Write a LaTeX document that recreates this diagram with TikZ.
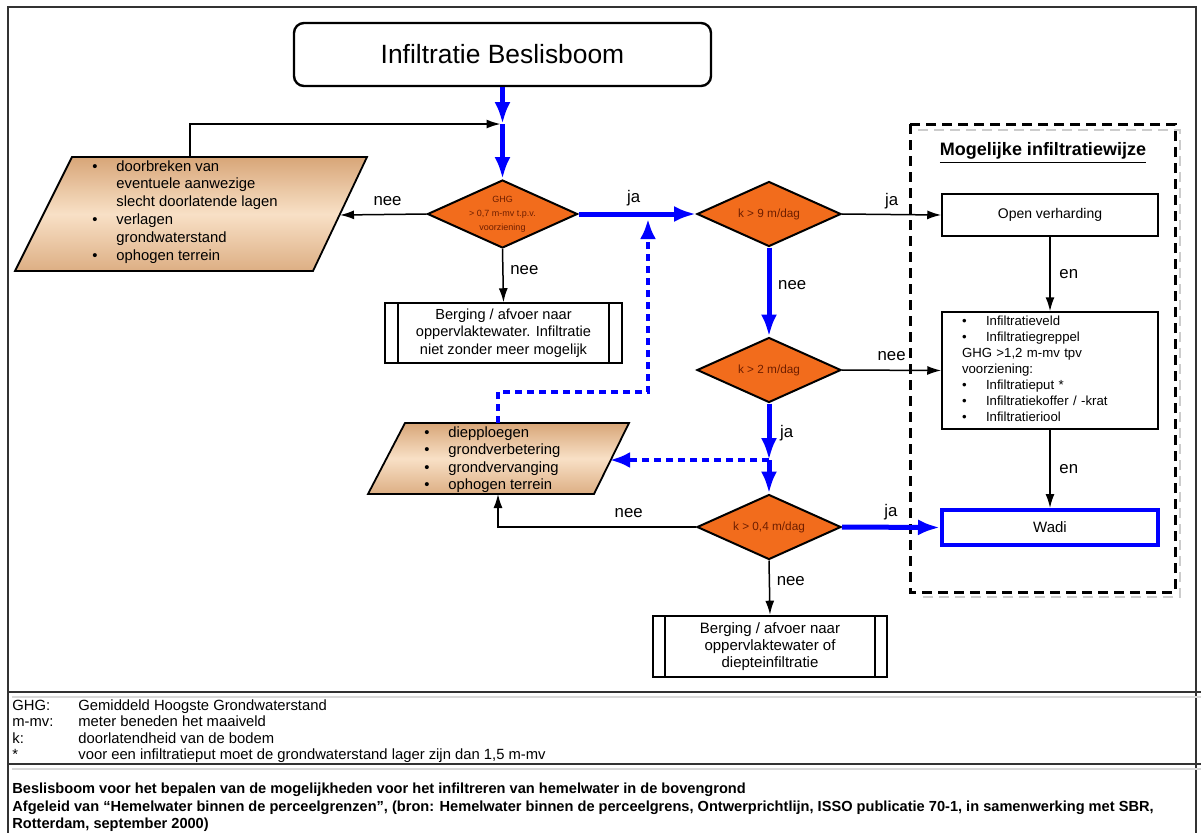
\documentclass[tikz,border=0pt]{standalone}
\usepackage{fontspec}
\setmainfont{Liberation Sans}
\usetikzlibrary{shapes.geometric,arrows.meta}

\definecolor{kblue}{RGB}{0,0,255}
\definecolor{korange}{RGB}{242,108,28}
\definecolor{ktext}{RGB}{110,30,0}
\definecolor{ktan}{RGB}{216,166,120}
\definecolor{klight}{RGB}{248,224,198}

\begin{document}
\begin{tikzpicture}[x=0.5pt,y=-0.5pt,
    arr/.style={-{Latex[length=7pt,width=4.5pt]}, line width=0.75pt},
    bluearr/.style={-{Latex[length=11pt,width=8pt]}, draw=kblue, line width=2.5pt},
    bluedash/.style={-{Latex[length=10pt,width=8pt]}, draw=kblue, line width=2pt, dash pattern=on 3.5pt off 2.5pt},
    cond/.style={diamond, draw, line width=1pt, fill=korange, text=ktext, shape aspect=2.2, inner sep=0pt,
        minimum width=72pt, minimum height=32.5pt, font=\fontsize{5.9}{7}\selectfont, align=center},
    plainbox/.style={draw, line width=0.75pt, fill=white, inner sep=0pt, font=\fontsize{7.3}{8.8}\selectfont, align=center},
    procbox/.style={plainbox, path picture={
        \draw[line width=0.75pt] ([xshift=#1]path picture bounding box.north west) -- ([xshift=#1]path picture bounding box.south west);
        \draw[line width=0.75pt] ([xshift=-#1]path picture bounding box.north east) -- ([xshift=-#1]path picture bounding box.south east);}},
    lbl/.style={font=\fontsize{8.4}{10}\selectfont, text=black, text depth=0pt},
    legend/.style={anchor=west, inner sep=0pt, text height=1.6ex, text depth=0.4ex, font=\fontsize{7.4}{9}\selectfont},
    note/.style={anchor=west, inner sep=0pt, text height=1.6ex, text depth=0.4ex, font=\bfseries\fontsize{7.3}{8.5}\selectfont}
  ]
    \useasboundingbox (0,0) rectangle (1201,832);

    % Main column positions
    \pgfmathsetmacro{\ax}{502.5};
    \pgfmathsetmacro{\cx}{769};
    \pgfmathsetmacro{\rx}{1050};

    % Frame and legend separators
    \draw[line width=1pt, black!80] (8,845) -- (8,7) -- (1196,7) -- (1196,845);
    \draw[line width=1pt, black!80] (8,692) -- (1201,692);
    \draw[line width=1pt, black!15] (12,697) -- (1201,697);
    \draw[line width=1pt, black!80] (8,764) -- (1201,764);
    \draw[line width=1pt, black!15] (12,769) -- (1201,769);

    % Title
    \node[draw, rounded corners=5pt, line width=1.2pt, minimum width=208.5pt, minimum height=31.5pt,
          font=\fontsize{13.2}{15}\selectfont] (title) at (\ax,54.5) {Infiltratie Beslisboom};

    % Dashed frame of the possible solutions
    \draw[black!20, line width=1pt, dash pattern=on 5pt off 3pt] (918,130) -- (1180,130) -- (1180,597) -- (918,597);
    \draw[line width=1.5pt, dash pattern=on 5pt off 3pt] (910,124) rectangle (1175,592);
    \node[font=\bfseries\fontsize{9}{11}\selectfont] (mog) at (1043,153) {\underline{Mogelijke infiltratiewijze}};

    % Parallelogram with measures (left)
    \coordinate (p1a) at (72,157);
    \coordinate (p1b) at (367,157);
    \coordinate (p1c) at (313,271);
    \coordinate (p1d) at (15,271);
    \coordinate (p1t) at (190,157);
    \coordinate (p1r) at (340,215);
    \shade[top color=ktan, bottom color=ktan!85!klight, middle color=klight] (p1a) -- (p1b) -- (p1c) -- (p1d) -- cycle;
    \draw[line width=0.9pt] (p1a) -- (p1b) -- (p1c) -- (p1d) -- cycle;
    \node[anchor=west, inner sep=0pt, font=\fontsize{7.4}{8.9}\selectfont] (p1) at (92,212) {%
      \begin{tabular}{@{}p{12pt}@{}l@{}}
        \textbullet & doorbreken van\\
                    & eventuele aanwezige\\
                    & slecht doorlatende lagen\\
        \textbullet & verlagen\\
                    & grondwaterstand\\
        \textbullet & ophogen terrein
      \end{tabular}};

    % Parallelogram with measures (middle)
    \coordinate (p2a) at (405,423);
    \coordinate (p2b) at (629,423);
    \coordinate (p2c) at (594,494);
    \coordinate (p2d) at (368,494);
    \coordinate (p2t) at (498,423);
    \coordinate (p2u) at (498,494);
    \coordinate (p2r) at (610,460);
    \shade[top color=ktan, bottom color=ktan!85!klight, middle color=klight] (p2a) -- (p2b) -- (p2c) -- (p2d) -- cycle;
    \draw[line width=0.9pt] (p2a) -- (p2b) -- (p2c) -- (p2d) -- cycle;
    \node[anchor=west, inner sep=0pt, font=\fontsize{7.4}{8.75}\selectfont] (p2) at (424,460) {%
      \begin{tabular}{@{}p{12pt}@{}l@{}}
        \textbullet & diepploegen\\
        \textbullet & grondverbetering\\
        \textbullet & grondvervanging\\
        \textbullet & ophogen terrein
      \end{tabular}};

    % Decisions
    \node[cond, minimum width=75pt, minimum height=34pt, font=\fontsize{4.5}{7}\selectfont] (d1) at (\ax,214)
      {GHG\\> 0,7 m-mv t.p.v.\\voorziening};
    \node[cond] (d2) at (\cx,214) {k > 9 m/dag};
    \node[cond] (d3) at (\cx,370) {k > 2 m/dag};
    \node[cond] (d4) at (\cx,527) {k > 0,4 m/dag};

    % Outcomes
    \node[procbox=6.5pt, minimum width=118.5pt, minimum height=30pt] (b1) at (503.5,333)
      {Berging / afvoer naar\\oppervlaktewater. Infiltratie\\niet zonder meer mogelijk};
    \node[procbox=6pt, line width=1.3pt, minimum width=117pt, minimum height=30.5pt,
          font=\fontsize{7.5}{8.6}\selectfont] (b4) at (770,646.5)
      {Berging / afvoer naar\\oppervlaktewater of\\diepteinfiltratie};
    \node[plainbox, minimum width=108pt, minimum height=21pt, font=\fontsize{7}{8.5}\selectfont] (ov) at (\rx,215) {Open verharding};
    \node[plainbox, minimum width=108pt, minimum height=58.5pt, text width=88pt, align=left,
          font=\fontsize{6.6}{8}\selectfont] (b3) at (\rx,370.5) {%
      \begin{tabular}{@{}p{12pt}@{}l@{}}
        \textbullet & Infiltratieveld\\
        \textbullet & Infiltratiegreppel\\
        \multicolumn{2}{@{}l@{}}{GHG >1,2 m-mv tpv}\\
        \multicolumn{2}{@{}l@{}}{voorziening:}\\
        \textbullet & Infiltratieput *\\
        \textbullet & Infiltratiekoffer / -krat\\
        \textbullet & Infiltratieriool
      \end{tabular}};
    \node[plainbox, draw=kblue, line width=2pt, minimum width=108pt, minimum height=17.5pt,
          font=\fontsize{7.5}{9}\selectfont] (wadi) at (\rx,527.5) {Wadi};

    % Junctions on the blue route
    \coordinate (j1) at (\ax,124);
    \coordinate (j2) at (\cx,460);
    \coordinate (j3) at (648,219);
    \coordinate (dk) at (498,392);

    % Draw the connectors
    \draw[bluearr] (title.south) -- (j1);
    \draw[bluearr] (j1) -- (d1.north);
    \draw[arr, shorten >=1pt] (p1t) |- (j1);
    \draw[arr] (d1.west) -- (p1r) node[pos=0.45, above=1pt, lbl]{nee};
    \draw[arr] (d1.south) -- (b1.north) node[pos=0.4, right=0pt, lbl]{nee};
    \draw[bluearr] (d1.east) -- (d2.west) node[pos=0.47, above=1pt, lbl]{ja};
    \draw[arr] (d2.east) -- (ov.west) node[midway, above=1pt, lbl]{ja};
    \draw[bluearr] (d2.south) -- (d3.north) node[pos=0.42, right=0pt, lbl]{nee};
    \draw[arr] (d3.east) -- (b3.west) node[midway, above=1pt, lbl]{nee};
    \draw[bluearr] (d3.south) -- (j2) node[midway, right=1pt, lbl]{ja};
    \draw[bluearr] (j2) -- (d4.north);
    \draw[bluedash] (j2) -- (p2r);
    \draw[bluedash] (p2t) -- (dk) -| (j3);
    \draw[bluearr] (d4.east) -- (wadi.west) node[midway, above=1pt, lbl]{ja};
    \draw[arr] (d4.west) -| (p2u) node[pos=0.17, above=1pt, lbl]{nee};
    \draw[arr] (d4.south) -- (b4.north) node[pos=0.37, right=0pt, lbl]{nee};
    \draw[arr] (ov.south) -- (b3.north) node[midway, right=1pt, lbl]{en};
    \draw[arr] (b3.south) -- (wadi.north) node[midway, right=1pt, lbl]{en};

    % Legend
    \node[legend] (k1) at (12,704) {GHG:};
    \node[legend] (v1) at (78,704) {Gemiddeld Hoogste Grondwaterstand};
    \node[legend] (k2) at (12,720.5) {m-mv:};
    \node[legend] (v2) at (78,720.5) {meter beneden het maaiveld};
    \node[legend] (k3) at (12,737) {k:};
    \node[legend] (v3) at (78,737) {doorlatendheid van de bodem};
    \node[legend] (k4) at (12,753.5) {*};
    \node[legend] (v4) at (78,753.5) {voor een infiltratieput moet de grondwaterstand lager zijn dan 1,5 m-mv};

    % Source note
    \node[note] (n1) at (12,787) {Beslisboom voor het bepalen van de mogelijkheden voor het infiltreren van hemelwater in de bovengrond};
    \node[note] (n2) at (12,805) {Afgeleid van “Hemelwater binnen de perceelgrenzen”, (bron: Hemelwater binnen de perceelgrens, Ontwerprichtlijn, ISSO publicatie 70-1, in samenwerking met SBR,};
    \node[note] (n3) at (12,822) {Rotterdam, september 2000)};
  \end{tikzpicture}
\end{document}
